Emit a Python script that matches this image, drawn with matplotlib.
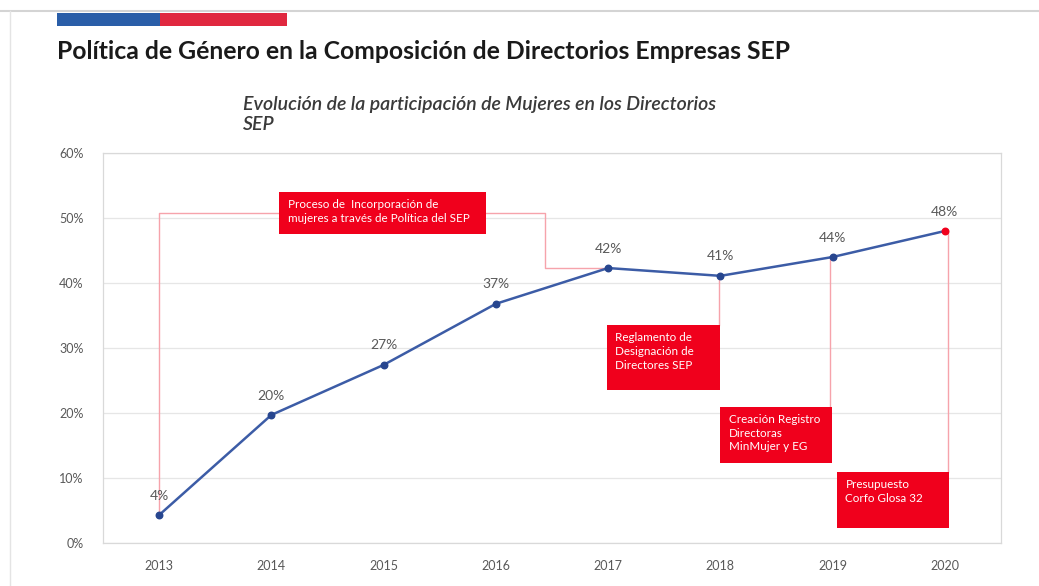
import matplotlib.pyplot as plt
from matplotlib.patches import Rectangle
from matplotlib.lines import Line2D

# data
years = ['2013', '2014', '2015', '2016', '2017', '2018', '2019', '2020']
share = [4.3, 19.7, 27.4, 36.8, 42.3, 41.1, 44.0, 48.0]
share_labels = ['4%', '20%', '27%', '37%', '42%', '41%', '44%', '48%']
y_ticks = [0, 10, 20, 30, 40, 50, 60]
y_tick_labels = ['0%', '10%', '20%', '30%', '40%', '50%', '60%']

event_texts = [
    'Proceso de  Incorporación de\nmujeres a través de Política del SEP',
    'Reglamento de\nDesignación de\nDirectores SEP',
    'Creación Registro\nDirectoras\nMinMujer y EG',
    'Presupuesto\nCorfo Glosa 32',
]
event_points = [4, 5, 6, 7]

# layout of the red boxes (x0, x1, y0, y1) in axis units
box_layout = [
    (1.07, 2.91, 47.5, 54.0),
    (3.99, 5.00, 23.5, 33.5),
    (5.00, 5.99, 12.3, 20.9),
    (6.04, 7.04, 2.3, 10.9),
]

FONT = ['Lato', 'DejaVu Sans']
RED = '#f0001c'
PINK = '#f6a3ab'
BLUE = '#3c5ca6'
NAVY = '#27468f'
GREY = '#595959'

W, H = 1039, 586
fig = plt.figure(figsize=(W / 100, H / 100), dpi=100)
fig.patch.set_facecolor('white')


def px(x, y):
    return x / W, 1 - y / H


# page frame lines
fig.add_artist(Line2D([0, 1], [1 - 11 / H] * 2, color='#d4d4d4', lw=1.5))
fig.add_artist(Line2D([10 / W] * 2, [0, 1 - 11 / H], color='#e4e4e4', lw=1.0))

# flag bar
fig.add_artist(Rectangle(px(57, 26), 103 / W, 13 / H, color='#2a5ea8', lw=0))
fig.add_artist(Rectangle(px(160, 26), 127 / W, 13 / H, color='#e0283f', lw=0))

fig.text(*px(57, 59), 'Política de Género en la Composición de Directorios Empresas SEP',
         fontsize=17.8, fontweight='bold', color='#1a1a1a', family=FONT, va='baseline')
fig.text(*px(243, 110), 'Evolución de la participación de Mujeres en los Directorios',
         fontsize=14, fontstyle='italic', fontweight='semibold', color='#3a3a3a',
         family=FONT, va='baseline')
fig.text(*px(243, 130), 'SEP',
         fontsize=14, fontstyle='italic', fontweight='semibold', color='#3a3a3a',
         family=FONT, va='baseline')

ax = fig.add_axes([103 / W, 43 / H, 898 / W, 390 / H])
xs = list(range(len(years)))
ax.set_xlim(-0.5, len(years) - 0.5)
ax.set_ylim(0, 60)
ax.set_yticks(y_ticks)
ax.set_yticklabels(y_tick_labels)
ax.set_xticks(xs)
ax.set_xticklabels(years)
ax.tick_params(length=0, colors=GREY, labelsize=9, pad=12)
ax.tick_params(axis='y', pad=14)
for lab in ax.get_xticklabels() + ax.get_yticklabels():
    lab.set_family(FONT)
ax.grid(axis='y', color='#e6e6e6', lw=0.9)
ax.set_axisbelow(True)
for sp in ax.spines.values():
    sp.set_color('#d9d9d9')
    sp.set_linewidth(0.9)

# connectors
first = box_layout[0]
ax.plot([xs[0], xs[0], first[0]], [share[0], 50.8, 50.8], color=PINK, lw=1, zorder=2)
i0 = event_points[0]
ax.plot([first[1], 3.44, 3.44, xs[i0]], [50.8, 50.8, share[i0], share[i0]],
        color=PINK, lw=1, zorder=2)
for (x0, x1, y0, y1), i in zip(box_layout[1:], event_points[1:]):
    ax.plot([x1 - 0.01, x1 - 0.01], [share[i], y1], color=PINK, lw=1, zorder=2)

ax.plot(xs, share, color=BLUE, lw=1.8, zorder=3)
ax.scatter(xs[:-1], share[:-1], s=22, color=NAVY, zorder=4)
ax.scatter(xs[-1:], share[-1:], s=22, color=RED, zorder=4)
for x, v, t in zip(xs, share, share_labels):
    ax.annotate(t, (x, v), xytext=(0, 14), textcoords='offset points', ha='center',
                va='center', fontsize=10, color=GREY, family=FONT, zorder=5)

for (x0, x1, y0, y1), t in zip(box_layout, event_texts):
    ax.add_patch(Rectangle((x0, y0), x1 - x0, y1 - y0, color=RED, lw=0, zorder=6))
    ax.annotate(t, (x0, y1), xytext=(6, -5), textcoords='offset points', ha='left',
                va='top', fontsize=8.4, color='white', family=FONT, zorder=7,
                linespacing=1.3)

fig.savefig('out.png', dpi=100)
